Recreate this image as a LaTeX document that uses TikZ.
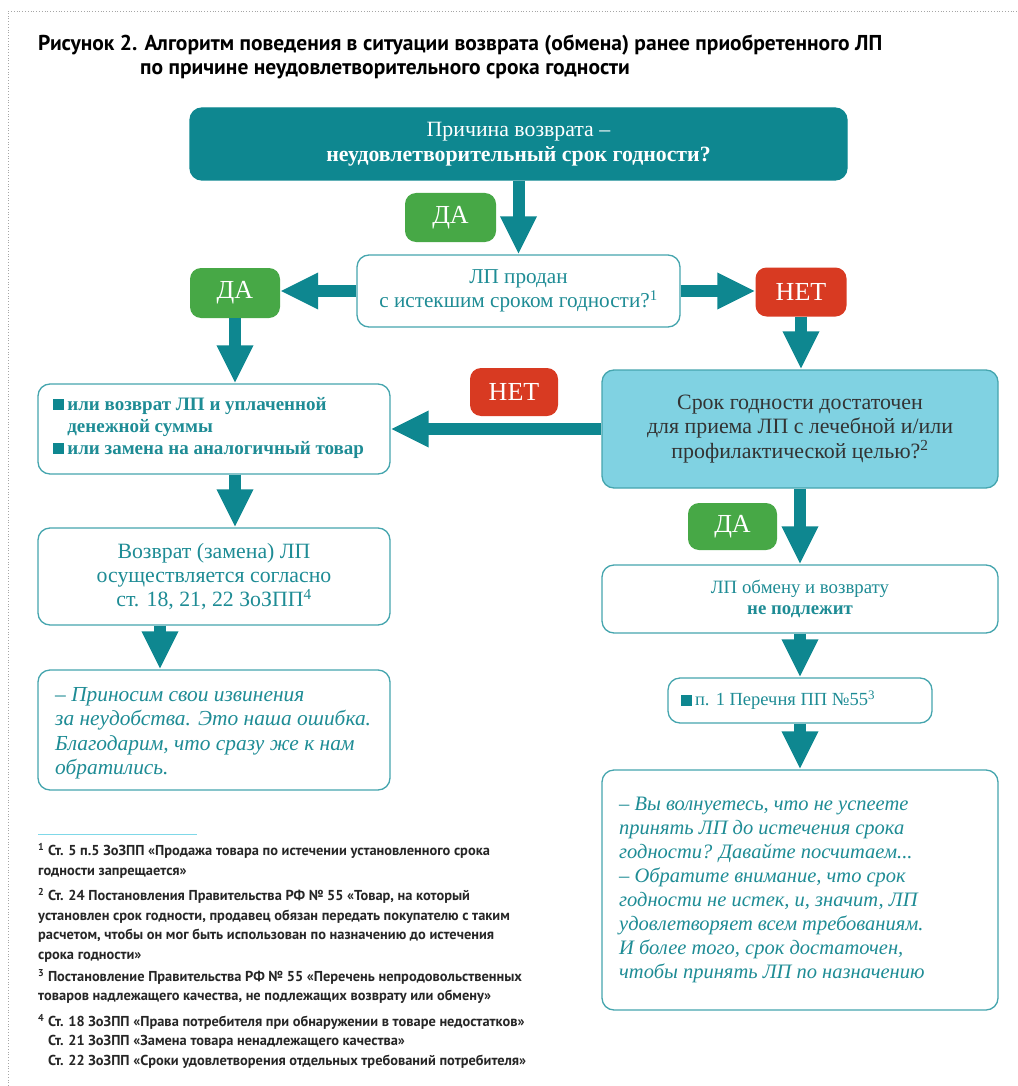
\documentclass[tikz,border=0pt]{standalone}
\usepackage{fontspec}
\setmainfont{Liberation Serif}
\newfontfamily\condfont{PT Sans}
\usetikzlibrary{arrows.meta,calc}
\definecolor{tealdark}{HTML}{0E8790}
\definecolor{bordc}{HTML}{45A5AE}
\definecolor{tealtext}{HTML}{1E8C95}
\definecolor{greenlbl}{HTML}{47A846}
\definecolor{redlbl}{HTML}{D83A22}
\definecolor{lightblue}{HTML}{80D2E2}
\definecolor{rulec}{HTML}{7FD8E8}
\definecolor{darktext}{HTML}{333333}
\newcommand{\sqbullet}{\textcolor{tealdark}{\rule{11pt}{11pt}}}
\begin{document}
\begin{tikzpicture}[x=1pt,y=-1pt,
  box/.style={draw=bordc, line width=1.3pt, rounded corners=12pt, fill=white, inner sep=0pt, text=tealtext, align=center},
  lbl/.style={rounded corners=11pt, inner sep=0pt, text=white, font=\fontsize{26}{30}\selectfont},
  arr/.style={draw=tealdark, line width=12pt, -{Triangle[width=34pt,length=38pt]}},
  fn/.style={anchor=north west, inner sep=0pt, align=left, font=\condfont\bfseries\fontsize{14.4}{19.5}\selectfont, text=black!85}
]
\useasboundingbox (0,0) rectangle (1017,1086);
% dotted frame
\draw[gray!70, dotted, line width=0.8pt] (8,1086) -- (8,11) -- (1017,11);

% title
\node[anchor=west, inner sep=0pt, font=\condfont\bfseries\fontsize{21.5}{26}\selectfont] (title1) at (38,45)
  {Рисунок 2. Алгоритм поведения в ситуации возврата (обмена) ранее приобретенного ЛП};
\node[anchor=west, inner sep=0pt, font=\condfont\bfseries\fontsize{21.5}{26}\selectfont] (title2) at (140,71)
  {по причине неудовлетворительного срока годности};

% nodes
\node[box, fill=tealdark, draw=tealdark, text=white, minimum width=657pt, minimum height=72pt,
  font=\fontsize{21.8}{25}\selectfont] (top) at (518.5,144)
  {Причина возврата –\\\textbf{неудовлетворительный срок годности?}};
\node[lbl, fill=greenlbl, minimum width=91pt, minimum height=49pt] (da1) at (450.5,217.5) {ДА};
\node[box, minimum width=323pt, minimum height=72pt, font=\fontsize{21.2}{24}\selectfont] (q1) at (518.5,291)
  {ЛП продан\\с истекшим сроком годности?\textsuperscript{1}};
\node[lbl, fill=greenlbl, minimum width=90pt, minimum height=50pt] (da2) at (235,293) {ДА};
\node[lbl, fill=redlbl, minimum width=91pt, minimum height=49pt] (net1) at (801,292) {НЕТ};

\node[box, minimum width=352pt, minimum height=90pt] (list) at (214,429) {};
\node[anchor=north west, inner sep=0pt, align=left, text=tealtext, font=\bfseries\fontsize{19}{22}\selectfont] (listtxt) at (53,397)
  {\sqbullet\,или возврат ЛП и уплаченной\\
   \phantom{\rule{11pt}{11pt}\,}денежной суммы\\
   \sqbullet\,или замена на аналогичный товар};

\node[box, fill=lightblue, text=darktext, minimum width=396pt, minimum height=118pt, font=\fontsize{21.9}{24.3}\selectfont] (q2) at (800,429)
  {Срок годности достаточен\\для приема ЛП с лечебной и/или\\профилактической целью?\textsuperscript{2}};
\node[lbl, fill=redlbl, minimum width=88pt, minimum height=48pt] (net2) at (514,392) {НЕТ};

\node[box, minimum width=352pt, minimum height=97pt, font=\fontsize{21.8}{24.2}\selectfont] (ref) at (214,576.5)
  {Возврат (замена) ЛП\\осуществляется согласно\\ст. 18, 21, 22 ЗоЗПП\textsuperscript{4}};

\node[box, minimum width=352pt, minimum height=120pt] (sorry) at (214,730) {};
\node[anchor=north west, inner sep=0pt, align=left, text=tealtext, font=\itshape\fontsize{21.4}{24.5}\selectfont] (sorrytxt) at (55,687)
  {– Приносим свои извинения\\за неудобства. Это наша ошибка.\\Благодарим, что сразу же к нам\\обратились.};

\node[lbl, fill=greenlbl, minimum width=89pt, minimum height=47pt] (da3) at (732.5,526.5) {ДА};
\node[box, minimum width=396pt, minimum height=68pt, font=\fontsize{18.8}{20.5}\selectfont] (no) at (800,599)
  {ЛП обмену и возврату\\\textbf{не подлежит}};
\node[box, minimum width=264pt, minimum height=45pt, font=\fontsize{18.5}{21}\selectfont] (pp) at (800,700.5)
  {\sqbullet\,п. 1 Перечня ПП №55\textsuperscript{3}\hspace*{44pt}};

\node[box, minimum width=396pt, minimum height=240pt] (calm) at (800,890) {};
\node[anchor=north west, inner sep=0pt, align=left, text=tealtext, font=\itshape\fontsize{20.5}{24}\selectfont] (calmtxt) at (619,797)
  {– Вы волнуетесь, что не успеете\\принять ЛП до истечения срока\\годности? Давайте посчитаем...\\– Обратите внимание, что срок\\годности не истек, и, значит, ЛП\\удовлетворяет всем требованиям.\\И более того, срок достаточен,\\чтобы принять ЛП по назначению};

% arrows
\coordinate (c160) at (160,0);
\draw[arr] (top) -- (q1);
\draw[arr] (q1.west) -- (q1.west -| da2.east);
\draw[arr] (q1.east) -- (q1.east -| net1.west);
\draw[arr] (da2.south) -- (da2.south |- list.north);
\draw[arr] (net1.south) -- (net1.south |- q2.north);
\draw[arr] (q2.west) -- (q2.west -| list.east);
\draw[arr] (da2.south |- list.south) -- (da2.south |- ref.north);
\draw[arr] (ref.south -| c160) -- (sorry.north -| c160);
\draw[arr] (q2.south) -- (no.north);
\draw[arr] (no.south) -- (pp.north);
\draw[arr] (pp.south) -- (calm.north);

% footnotes
\draw[rulec, line width=1pt] (38,834) -- (197,834);
\node[fn] (fn1) at (38,843) {\textsuperscript{1} Ст. 5 п.5 ЗоЗПП «Продажа товара по истечении установленного срока\\годности запрещается»};
\node[fn] (fn2) at (38,888) {\textsuperscript{2} Ст. 24 Постановления Правительства РФ № 55 «Товар, на который\\установлен срок годности, продавец обязан передать покупателю с таким\\расчетом, чтобы он мог быть использован по назначению до истечения\\срока годности»};
\node[fn] (fn3) at (38,969) {\textsuperscript{3} Постановление Правительства РФ № 55 «Перечень непродовольственных\\товаров надлежащего качества, не подлежащих возврату или обмену»};
\node[fn] (fn4) at (38,1014) {\textsuperscript{4} Ст. 18 ЗоЗПП «Права потребителя при обнаружении в товаре недостатков»\\\phantom{\textsuperscript{4} }Ст. 21 ЗоЗПП «Замена товара ненадлежащего качества»\\\phantom{\textsuperscript{4} }Ст. 22 ЗоЗПП «Сроки удовлетворения отдельных требований потребителя»};
\end{tikzpicture}
\end{document}
